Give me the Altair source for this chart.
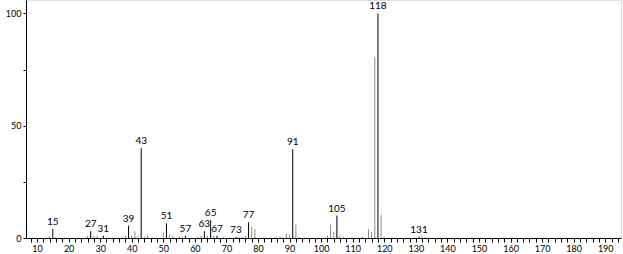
import altair as alt
import pandas as pd

mz = [14, 15, 16, 26, 27, 28, 29, 31, 32, 37, 38, 39, 40, 41, 42, 43, 44, 45,
      50, 51, 52, 53, 55, 56, 57, 61, 62, 63, 64, 65, 66, 67, 69, 73, 74, 75, 76,
      77, 78, 79, 86, 87, 88, 89, 90, 91, 92, 93, 102, 103, 104, 105, 106, 107,
      113, 114, 115, 116, 117, 118, 119, 120, 131, 132, 133, 134]
intensity = [1, 4, 0.5, 1, 3, 1, 1, 1, 0.3, 0.5, 1, 5.5, 1, 3, 1, 40, 0.5, 1,
             2.5, 6.5, 1.5, 1, 0.5, 0.5, 1, 0.5, 1, 3, 1, 8, 1, 1, 0.5, 0.5, 0.5, 0.5, 1,
             7, 5, 4, 0.5, 0.5, 0.5, 2, 1.5, 39.5, 6, 0.5, 1, 6, 2.7, 10, 1, 0.5,
             0.5, 0.5, 4, 2.7, 80.5, 100, 10.5, 0.5, 0.5, 0.5, 0.3, 0.3]
labeled = [15, 27, 31, 39, 43, 51, 57, 63, 65, 67, 73, 77, 91, 105, 118, 131]

x_ticks = list(range(8, 196, 2))
y_ticks = [0, 25, 50, 75, 100]

df = pd.DataFrame({"mz": mz, "intensity": intensity})
df["lab"] = df["mz"].isin(labeled)
df["text"] = df["mz"].astype(str)

FONT = "Lato"
xs = alt.Scale(domain=[6.5, 195], nice=False, zero=False)
ys = alt.Scale(domain=[0, 106], nice=False)

x_axis = alt.Axis(values=x_ticks,
                  labelExpr="datum.value % 10 == 0 ? datum.label : ''",
                  labelOverlap=False,
                  tickSize=4, tickColor="black", domainColor="black",
                  labelColor="black", labelFont=FONT, labelFontSize=9,
                  labelPadding=2, grid=False, labelFlush=False)
y_axis = alt.Axis(values=y_ticks,
                  labelExpr="datum.value % 50 == 0 ? datum.label : ''",
                  labelOverlap=False,
                  tickSize=3, tickColor="black", domainColor="black",
                  labelColor="black", labelFont=FONT, labelFontSize=9,
                  labelPadding=2, grid=False)

stems = alt.Chart(df).mark_rule(strokeWidth=1).encode(
    x=alt.X("mz:Q", scale=xs, title=None, axis=x_axis),
    y=alt.Y("intensity:Q", scale=ys, title=None, axis=y_axis),
    y2=alt.datum(0),
    color=alt.condition("datum.lab", alt.value("black"), alt.value("#8a8a8a")),
)

labels = alt.Chart(df[df["lab"]]).mark_text(
    baseline="bottom", align="center", dy=-2, font=FONT, fontSize=10, color="black"
).encode(
    x=alt.X("mz:Q", scale=xs, title=None, axis=x_axis),
    y=alt.Y("intensity:Q", scale=ys, title=None, axis=y_axis),
    text="text:N",
)

chart = (stems + labels).properties(
    width=595, height=238,
    autosize=alt.AutoSizeParams(type="none"),
    padding={"left": 26, "top": 0, "right": 2, "bottom": 16},
).configure_view(stroke=None).configure(background="white")

chart.save("out.html", embed_options={"renderer": "svg", "actions": False})
